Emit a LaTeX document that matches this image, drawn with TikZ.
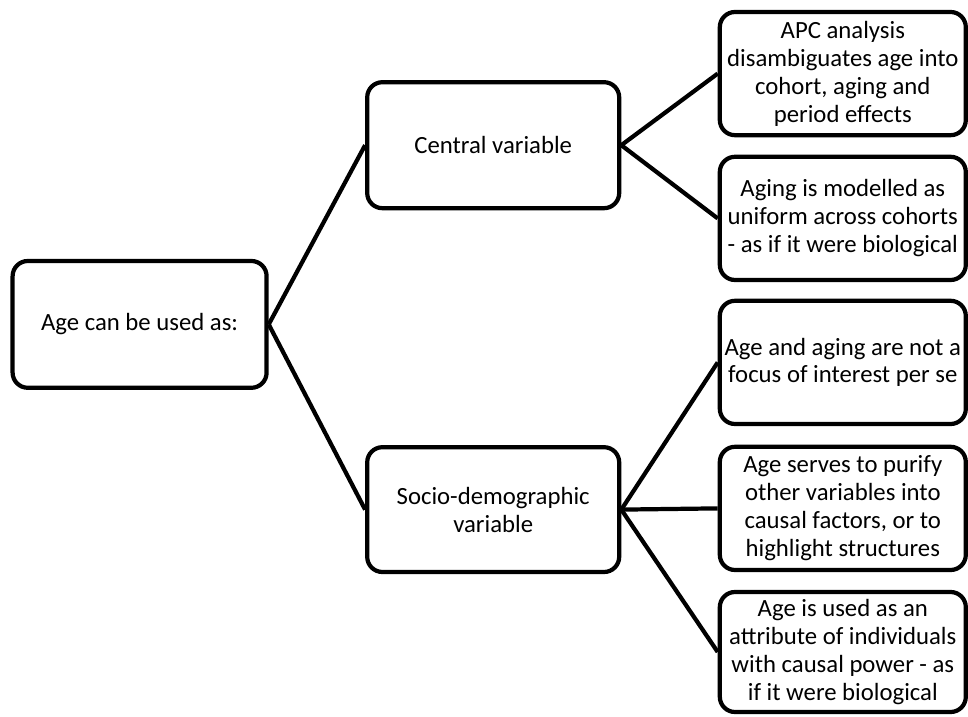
\documentclass[tikz,border=0pt]{standalone}
\usepackage{fontspec}
\setmainfont{Carlito}
\usetikzlibrary{positioning}

\begin{document}
\begin{tikzpicture}[
  box/.style={draw, line width=3pt, rounded corners=0.38cm, align=center,
    inner sep=0pt, font=\fontsize{17.6}{19.9}\selectfont},
  leafbox/.style={box, minimum width=6.15cm, minimum height=3.08cm},
  branch/.style={line width=3pt}
]
  \useasboundingbox (0,0) rectangle (24.2,17.9);

  \node[box, minimum width=6.35cm, minimum height=3.17cm] (root) at (3.49,9.79) {Age can be used as:};

  \node[box, minimum width=6.3cm, minimum height=3.15cm] (central) at (12.33,14.27) {Central variable};
  \node[box, minimum width=6.3cm, minimum height=3.12cm] (socio) at (12.33,5.16) {Socio-demographic\\variable};

  \node[leafbox] (apc) at (21.07,16.06) {APC analysis\\disambiguates age into\\cohort, aging and\\period effects};
  \node[leafbox] (uniform) at (21.07,12.44) {Aging is modelled as\\uniform across cohorts\\- as if it were biological};
  \node[leafbox] (focus) at (21.07,8.84) {Age and aging are not a\\focus of interest per se};
  \node[leafbox] (purify) at (21.07,5.19) {Age serves to purify\\other variables into\\causal factors, or to\\highlight structures};
  \node[leafbox, minimum height=3.0cm] (attribute) at (21.07,1.6) {Age is used as an\\attribute of individuals\\with causal power - as\\if it were biological};

  \draw[branch] (root.east) -- (central.west);
  \draw[branch] (root.east) -- (socio.west);

  \draw[branch] (central.east) -- (apc.west);
  \draw[branch] (central.east) -- (uniform.west);

  \draw[branch] (socio.east) -- (focus.west);
  \draw[branch] (socio.east) -- (purify.west);
  \draw[branch] (socio.east) -- (attribute.west);

\end{tikzpicture}
\end{document}
